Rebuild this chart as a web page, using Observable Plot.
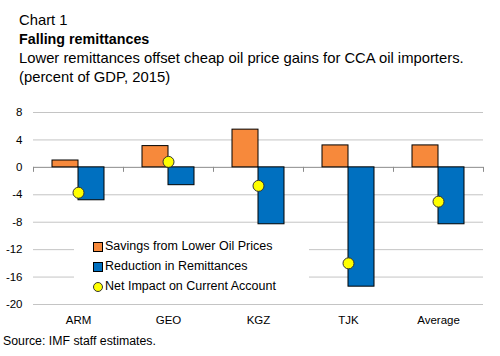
<!DOCTYPE html>
<html>
<head>
<meta charset="utf-8">
<script src="https://cdn.jsdelivr.net/npm/d3@7"></script>
<script src="https://cdn.jsdelivr.net/npm/@observablehq/plot@0.6"></script>
<style>
  html, body { margin: 0; padding: 0; background: #fff; }
  #wrap { position: relative; width: 500px; height: 356px; overflow: hidden; }
  .hdr { position: absolute; left: 19px; font-family: "Liberation Sans", Arial, sans-serif; font-size: 14.8px; color: #000; white-space: nowrap; line-height: 1; }
  #legend { position: absolute; left: 74px; top: 236px; width: 235px; height: 60px; background: #fff; font-family: "Liberation Sans", Arial, sans-serif; font-size: 12.5px; color: #000; }
  .li { position: absolute; left: 19px; white-space: nowrap; }
  .sw { position: absolute; width: 8px; height: 8px; border: 1px solid #000; left: 0; top: 0; }
  .lt { position: absolute; left: 12px; top: -3px; }
  #source { position: absolute; left: 3px; top: 334px; font-family: "Liberation Sans", Arial, sans-serif; font-size: 12.3px; white-space: nowrap; }
  #chart { position: absolute; left: 0; top: 100px; }
</style>
</head>
<body>
<div id="wrap">
  <div class="hdr" style="top:13px">Chart 1</div>
  <div class="hdr" style="top:32px;font-weight:bold;font-size:14.3px">Falling remittances</div>
  <div class="hdr" style="top:51px">Lower remittances offset cheap oil price gains for CCA oil importers.</div>
  <div class="hdr" style="top:70px">(percent of GDP, 2015)</div>
  <div id="chart"></div>
  <div id="legend"></div>
  <div id="source">Source: IMF staff estimates.</div>
</div>
<script>
const countries = ["ARM", "GEO", "KGZ", "TJK", "Average"];
const savings = [1.0, 3.1, 5.5, 3.2, 3.2];
const remittances = [-4.8, -2.6, -8.3, -17.4, -8.3];
const netImpact = [-3.7, 0.8, -2.7, -14.0, -5.0];
const yTicks = [-20, -16, -12, -8, -4, 0, 4, 8];
const seriesNames = ["Savings from Lower Oil Prices", "Reduction in Remittances", "Net Impact on Current Account"];
const colors = ["#F7893B", "#0070C0", "#FFFF00"];

const savData = countries.map((c, i) => ({country: c, value: savings[i]}));
const remData = countries.map((c, i) => ({country: c, value: remittances[i]}));
const netData = countries.map((c, i) => ({country: c, value: netImpact[i]}));

function boundaryTicks(index, scales) {
  const x = scales.x, y = scales.y;
  const bw = x(countries[1]) - x(countries[0]);
  const xs = countries.map(c => x(c)).concat([x(countries[countries.length - 1]) + bw]);
  const y0 = y(0);
  const g = d3.create("svg:g").attr("stroke", "#8c8c8c").attr("stroke-width", 1);
  for (const xv of xs) {
    g.append("line").attr("x1", Math.round(xv) + 0.5).attr("x2", Math.round(xv) + 0.5)
      .attr("y1", y0).attr("y2", y0 + 5);
  }
  return g.node();
}

const plot = Plot.plot({
  width: 500,
  height: 230,
  marginTop: 12,
  marginBottom: 26,
  marginLeft: 33,
  marginRight: 17,
  style: {fontFamily: "Liberation Sans, Arial, sans-serif", fontSize: "11.5px", color: "#000", background: "transparent"},
  x: {domain: countries, padding: 0, axis: null},
  y: {domain: [-20, 8], axis: null},
  marks: [
    Plot.ruleY(yTicks.filter(d => d !== 0), {stroke: "#c4c4c4", strokeWidth: 1}),
    Plot.ruleY([0], {stroke: "#8c8c8c", strokeWidth: 1}),
    boundaryTicks,
    Plot.barY(savData, {x: "country", y: "value", fill: colors[0], stroke: "#000", strokeWidth: 1, insetLeft: 19, insetRight: 45}),
    Plot.barY(remData, {x: "country", y: "value", fill: colors[1], stroke: "#000", strokeWidth: 1, insetLeft: 45, insetRight: 19}),
    Plot.dot(netData, {x: "country", y: "value", r: 5.5, fill: colors[2], stroke: "#333", strokeWidth: 1}),
    Plot.axisY({ticks: yTicks, tickSize: 0, tickPadding: 11, tickFormat: d => String(d), label: null}),
    Plot.axisX({tickSize: 0, tickPadding: 11, label: null})
  ]
});
document.getElementById("chart").appendChild(plot);

const legend = document.getElementById("legend");
seriesNames.forEach((name, i) => {
  const item = document.createElement("div");
  item.className = "li";
  item.style.top = (6 + i * 20) + "px";
  const sw = document.createElement("div");
  sw.className = "sw";
  sw.style.background = colors[i];
  if (i === 2) { sw.style.borderRadius = "50%"; sw.style.borderColor = "#333"; }
  const t = document.createElement("div");
  t.className = "lt";
  t.textContent = name;
  item.appendChild(sw);
  item.appendChild(t);
  legend.appendChild(item);
});
</script>
</body>
</html>
